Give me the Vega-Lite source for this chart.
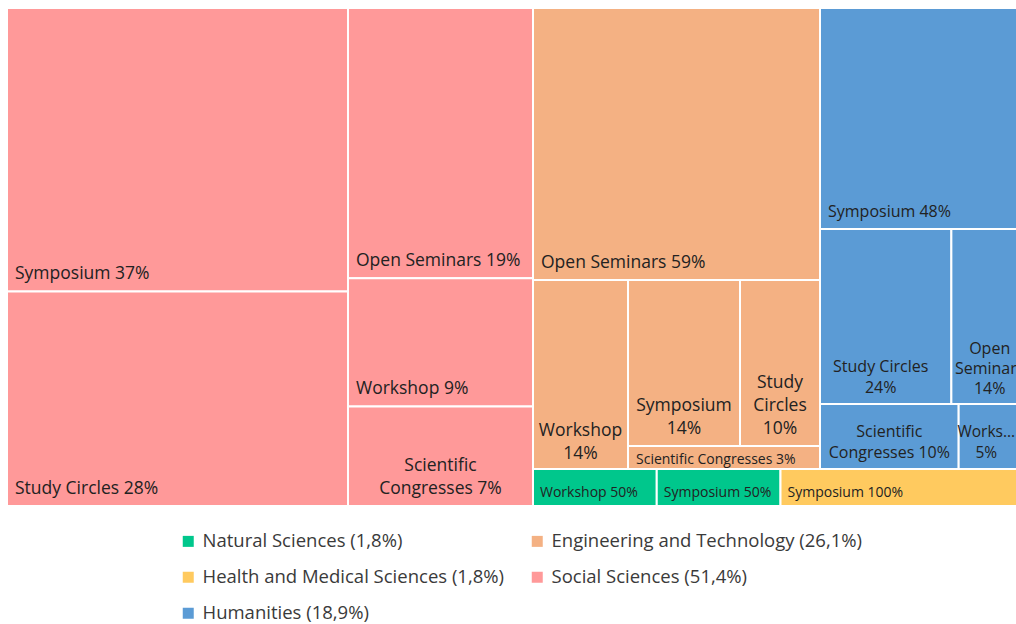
{
  "$schema": "https://vega.github.io/schema/vega-lite/v6.json",
  "padding": {"left": 7, "top": 8, "right": 0, "bottom": 0},
  "background": "white",
  "config": {"view": {"stroke": null}, "concat": {"spacing": 0}, "text": {"font": "Open Sans"}},
  "data": {"values": [
    {"panel": "S1", "category": "Social Sciences (51,4%)", "type": "Symposium", "pct": 37, "label": "Symposium 37%"},
    {"panel": "S1", "category": "Social Sciences (51,4%)", "type": "Study Circles", "pct": 28, "label": "Study Circles 28%"},
    {"panel": "S2", "category": "Social Sciences (51,4%)", "type": "Open Seminars", "pct": 19, "label": "Open Seminars 19%"},
    {"panel": "S2", "category": "Social Sciences (51,4%)", "type": "Workshop", "pct": 9, "label": "Workshop 9%"},
    {"panel": "S2", "category": "Social Sciences (51,4%)", "type": "Scientific Congresses", "pct": 7, "label": "Scientific\nCongresses 7%"},
    {"panel": "E1", "category": "Engineering and Technology (26,1%)", "type": "Open Seminars", "pct": 59, "label": "Open Seminars 59%"},
    {"panel": "E2", "category": "Engineering and Technology (26,1%)", "type": "Workshop", "pct": 14, "label": "Workshop\n14%"},
    {"panel": "E3", "category": "Engineering and Technology (26,1%)", "type": "Symposium", "pct": 14, "label": "Symposium\n14%"},
    {"panel": "E3", "category": "Engineering and Technology (26,1%)", "type": "Study Circles", "pct": 10, "label": "Study\nCircles\n10%"},
    {"panel": "E4", "category": "Engineering and Technology (26,1%)", "type": "Scientific Congresses", "pct": 3, "label": "Scientific Congresses 3%"},
    {"panel": "H1", "category": "Humanities (18,9%)", "type": "Symposium", "pct": 48, "label": "Symposium 48%"},
    {"panel": "H2", "category": "Humanities (18,9%)", "type": "Study Circles", "pct": 24, "label": "Study Circles\n24%"},
    {"panel": "H2", "category": "Humanities (18,9%)", "type": "Open Seminars", "pct": 14, "label": "Open\nSeminars\n14%"},
    {"panel": "H3", "category": "Humanities (18,9%)", "type": "Scientific Congresses", "pct": 10, "label": "Scientific\nCongresses 10%"},
    {"panel": "H3", "category": "Humanities (18,9%)", "type": "Workshop", "pct": 5, "label": "Works...\n5%"},
    {"panel": "B", "category": "Natural Sciences (1,8%)", "type": "Workshop", "pct": 50, "label": "Workshop 50%"},
    {"panel": "B", "category": "Natural Sciences (1,8%)", "type": "Symposium", "pct": 50, "label": "Symposium 50%"},
    {"panel": "B", "category": "Health and Medical Sciences (1,8%)", "type": "Symposium", "pct": 100, "label": "Symposium 100%"}
  ]},
  "spacing": 0,
  "hconcat": [
    {
      "width": 341, "height": 498,
      "transform": [{"filter": {"field": "panel", "equal": "S1"}}],
      "encoding": {
        "x": {"field": "panel", "type": "nominal", "axis": null, "scale": {"paddingInner": 0, "paddingOuter": 0}},
        "y": {"field": "pct", "type": "quantitative", "stack": "normalize", "axis": null, "scale": {"reverse": true}},
        "order": {"field": "pct", "sort": "descending"},
        "color": {"field": "category", "type": "nominal", "scale": {"domain": ["Natural Sciences (1,8%)", "Engineering and Technology (26,1%)", "Health and Medical Sciences (1,8%)", "Social Sciences (51,4%)", "Humanities (18,9%)"], "range": ["#00C78C", "#F4B183", "#FFCA5F", "#FF9999", "#5B9BD5"]}, "legend": {"title": null, "orient": "none", "direction": "horizontal", "legendX": 172, "legendY": 524, "columns": 2, "columnPadding": 23, "rowPadding": 17, "symbolType": "square", "symbolSize": 121, "symbolStrokeWidth": 0, "labelFont": "Open Sans", "labelFontSize": 18.5, "labelColor": "#3a3a3a", "labelLimit": 0, "labelOffset": 5}}
      },
      "layer": [
        {"mark": {"type": "bar", "stroke": "white", "strokeWidth": 2, "clip": true}},
        {"mark": {"type": "text", "clip": true, "align": "left", "baseline": "bottom", "dx": 8, "dy": -8, "fontSize": 17.5, "font": "Open Sans"},
         "encoding": {"x": {"field": "panel", "type": "nominal", "axis": null, "bandPosition": 0}, "y": {"field": "pct", "type": "quantitative", "stack": "normalize", "axis": null, "bandPosition": 1}, "text": {"field": "label", "type": "nominal"}, "color": {"value": "#222222"}}}
      ]
    },
    {
      "width": 185, "height": 498,
      "transform": [{"filter": {"field": "panel", "equal": "S2"}}],
      "encoding": {
        "x": {"field": "panel", "type": "nominal", "axis": null, "scale": {"paddingInner": 0, "paddingOuter": 0}},
        "y": {"field": "pct", "type": "quantitative", "stack": "normalize", "axis": null, "scale": {"reverse": true}},
        "order": {"field": "pct", "sort": "descending"},
        "color": {"field": "category", "type": "nominal", "scale": {"domain": ["Natural Sciences (1,8%)", "Engineering and Technology (26,1%)", "Health and Medical Sciences (1,8%)", "Social Sciences (51,4%)", "Humanities (18,9%)"], "range": ["#00C78C", "#F4B183", "#FFCA5F", "#FF9999", "#5B9BD5"]}, "legend": {"title": null, "orient": "none", "direction": "horizontal", "legendX": 172, "legendY": 524, "columns": 2, "columnPadding": 23, "rowPadding": 17, "symbolType": "square", "symbolSize": 121, "symbolStrokeWidth": 0, "labelFont": "Open Sans", "labelFontSize": 18.5, "labelColor": "#3a3a3a", "labelLimit": 0, "labelOffset": 5}}
      },
      "layer": [
        {"mark": {"type": "bar", "stroke": "white", "strokeWidth": 2, "clip": true}},
        {"mark": {"type": "text", "clip": true, "align": "left", "baseline": "bottom", "dx": 8, "dy": -8, "fontSize": 17.5, "font": "Open Sans"},
         "encoding": {"x": {"field": "panel", "type": "nominal", "axis": null, "bandPosition": 0}, "y": {"field": "pct", "type": "quantitative", "stack": "normalize", "axis": null, "bandPosition": 1}, "text": {"condition": {"test": "length(split(datum.label, '\\n')) == 1", "field": "label", "type": "nominal"}, "value": ""}, "color": {"value": "#222222"}}},
        {"mark": {"type": "text", "clip": true, "align": "center", "baseline": "bottom", "dy": -31, "fontSize": 17.5, "font": "Open Sans", "lineBreak": "\n", "lineHeight": 23},
         "encoding": {"x": {"field": "panel", "type": "nominal", "axis": null, "bandPosition": 0.5}, "y": {"field": "pct", "type": "quantitative", "stack": "normalize", "axis": null, "bandPosition": 1}, "text": {"condition": {"test": "length(split(datum.label, '\\n')) == 2", "field": "label", "type": "nominal"}, "value": ""}, "color": {"value": "#222222"}}}
      ]
    },
    {
      "spacing": 0,
      "vconcat": [
        {
          "spacing": 0,
          "hconcat": [
            {
              "spacing": 0,
              "vconcat": [
                {
                  "width": 287, "height": 272,
                  "transform": [{"filter": {"field": "panel", "equal": "E1"}}],
                  "encoding": {
                    "x": {"field": "panel", "type": "nominal", "axis": null, "scale": {"paddingInner": 0, "paddingOuter": 0}},
                    "y": {"field": "pct", "type": "quantitative", "stack": "normalize", "axis": null, "scale": {"reverse": true}},
                    "order": {"field": "pct", "sort": "descending"},
                    "color": {"field": "category", "type": "nominal", "scale": {"domain": ["Natural Sciences (1,8%)", "Engineering and Technology (26,1%)", "Health and Medical Sciences (1,8%)", "Social Sciences (51,4%)", "Humanities (18,9%)"], "range": ["#00C78C", "#F4B183", "#FFCA5F", "#FF9999", "#5B9BD5"]}, "legend": {"title": null, "orient": "none", "direction": "horizontal", "legendX": 172, "legendY": 524, "columns": 2, "columnPadding": 23, "rowPadding": 17, "symbolType": "square", "symbolSize": 121, "symbolStrokeWidth": 0, "labelFont": "Open Sans", "labelFontSize": 18.5, "labelColor": "#3a3a3a", "labelLimit": 0, "labelOffset": 5}}
                  },
                  "layer": [
                    {"mark": {"type": "bar", "stroke": "white", "strokeWidth": 2, "clip": true}},
                    {"mark": {"type": "text", "clip": true, "align": "left", "baseline": "bottom", "dx": 8, "dy": -8, "fontSize": 17.5, "font": "Open Sans"},
                     "encoding": {"x": {"field": "panel", "type": "nominal", "axis": null, "bandPosition": 0}, "y": {"field": "pct", "type": "quantitative", "stack": "normalize", "axis": null, "bandPosition": 1}, "text": {"field": "label", "type": "nominal"}, "color": {"value": "#222222"}}}
                  ]
                },
                {
                  "spacing": 0,
                  "hconcat": [
                    {
                      "width": 95, "height": 189,
                      "transform": [{"filter": {"field": "panel", "equal": "E2"}}],
                      "encoding": {
                        "x": {"field": "panel", "type": "nominal", "axis": null, "scale": {"paddingInner": 0, "paddingOuter": 0}},
                        "y": {"field": "pct", "type": "quantitative", "stack": "normalize", "axis": null, "scale": {"reverse": true}},
                        "order": {"field": "pct", "sort": "descending"},
                        "color": {"field": "category", "type": "nominal", "scale": {"domain": ["Natural Sciences (1,8%)", "Engineering and Technology (26,1%)", "Health and Medical Sciences (1,8%)", "Social Sciences (51,4%)", "Humanities (18,9%)"], "range": ["#00C78C", "#F4B183", "#FFCA5F", "#FF9999", "#5B9BD5"]}, "legend": {"title": null, "orient": "none", "direction": "horizontal", "legendX": 172, "legendY": 524, "columns": 2, "columnPadding": 23, "rowPadding": 17, "symbolType": "square", "symbolSize": 121, "symbolStrokeWidth": 0, "labelFont": "Open Sans", "labelFontSize": 18.5, "labelColor": "#3a3a3a", "labelLimit": 0, "labelOffset": 5}}
                      },
                      "layer": [
                        {"mark": {"type": "bar", "stroke": "white", "strokeWidth": 2, "clip": true}},
                        {"mark": {"type": "text", "clip": true, "align": "center", "baseline": "bottom", "dy": -29, "fontSize": 17.5, "font": "Open Sans", "lineBreak": "\n", "lineHeight": 23},
                         "encoding": {"x": {"field": "panel", "type": "nominal", "axis": null, "bandPosition": 0.5}, "y": {"field": "pct", "type": "quantitative", "stack": "normalize", "axis": null, "bandPosition": 1}, "text": {"field": "label", "type": "nominal"}, "color": {"value": "#222222"}}}
                      ]
                    },
                    {
                      "spacing": 0,
                      "vconcat": [
                        {
                          "width": 192, "height": 166,
                          "transform": [{"filter": {"field": "panel", "equal": "E3"}}],
                          "encoding": {
                            "y": {"field": "panel", "type": "nominal", "axis": null, "scale": {"paddingInner": 0, "paddingOuter": 0}},
                            "x": {"field": "pct", "type": "quantitative", "stack": "normalize", "axis": null},
                            "order": {"field": "pct", "sort": "descending"},
                            "color": {"field": "category", "type": "nominal", "scale": {"domain": ["Natural Sciences (1,8%)", "Engineering and Technology (26,1%)", "Health and Medical Sciences (1,8%)", "Social Sciences (51,4%)", "Humanities (18,9%)"], "range": ["#00C78C", "#F4B183", "#FFCA5F", "#FF9999", "#5B9BD5"]}, "legend": {"title": null, "orient": "none", "direction": "horizontal", "legendX": 172, "legendY": 524, "columns": 2, "columnPadding": 23, "rowPadding": 17, "symbolType": "square", "symbolSize": 121, "symbolStrokeWidth": 0, "labelFont": "Open Sans", "labelFontSize": 18.5, "labelColor": "#3a3a3a", "labelLimit": 0, "labelOffset": 5}}
                          },
                          "layer": [
                            {"mark": {"type": "bar", "stroke": "white", "strokeWidth": 2, "clip": true}},
                            {"mark": {"type": "text", "clip": true, "align": "center", "baseline": "bottom", "dy": -31, "fontSize": 17.5, "font": "Open Sans", "lineBreak": "\n", "lineHeight": 23},
                             "encoding": {"y": {"field": "panel", "type": "nominal", "axis": null, "bandPosition": 1}, "x": {"field": "pct", "type": "quantitative", "stack": "normalize", "axis": null, "bandPosition": 0.5}, "text": {"condition": {"test": "length(split(datum.label, '\\n')) == 2", "field": "label", "type": "nominal"}, "value": ""}, "color": {"value": "#222222"}}},
                            {"mark": {"type": "text", "clip": true, "align": "center", "baseline": "bottom", "dy": -54, "fontSize": 17.5, "font": "Open Sans", "lineBreak": "\n", "lineHeight": 23},
                             "encoding": {"y": {"field": "panel", "type": "nominal", "axis": null, "bandPosition": 1}, "x": {"field": "pct", "type": "quantitative", "stack": "normalize", "axis": null, "bandPosition": 0.5}, "text": {"condition": {"test": "length(split(datum.label, '\\n')) == 3", "field": "label", "type": "nominal"}, "value": ""}, "color": {"value": "#222222"}}}
                          ]
                        },
                        {
                          "width": 192, "height": 23,
                          "transform": [{"filter": {"field": "panel", "equal": "E4"}}],
                          "encoding": {
                            "x": {"field": "panel", "type": "nominal", "axis": null, "scale": {"paddingInner": 0, "paddingOuter": 0}},
                            "y": {"field": "pct", "type": "quantitative", "stack": "normalize", "axis": null, "scale": {"reverse": true}},
                            "order": {"field": "pct", "sort": "descending"},
                            "color": {"field": "category", "type": "nominal", "scale": {"domain": ["Natural Sciences (1,8%)", "Engineering and Technology (26,1%)", "Health and Medical Sciences (1,8%)", "Social Sciences (51,4%)", "Humanities (18,9%)"], "range": ["#00C78C", "#F4B183", "#FFCA5F", "#FF9999", "#5B9BD5"]}, "legend": {"title": null, "orient": "none", "direction": "horizontal", "legendX": 172, "legendY": 524, "columns": 2, "columnPadding": 23, "rowPadding": 17, "symbolType": "square", "symbolSize": 121, "symbolStrokeWidth": 0, "labelFont": "Open Sans", "labelFontSize": 18.5, "labelColor": "#3a3a3a", "labelLimit": 0, "labelOffset": 5}}
                          },
                          "layer": [
                            {"mark": {"type": "bar", "stroke": "white", "strokeWidth": 2, "clip": true}},
                            {"mark": {"type": "text", "clip": true, "align": "left", "baseline": "bottom", "dx": 8, "dy": -2, "fontSize": 14, "font": "Open Sans"},
                             "encoding": {"x": {"field": "panel", "type": "nominal", "axis": null, "bandPosition": 0}, "y": {"field": "pct", "type": "quantitative", "stack": "normalize", "axis": null, "bandPosition": 1}, "text": {"field": "label", "type": "nominal"}, "color": {"value": "#222222"}}}
                          ]
                        }
                      ]
                    }
                  ]
                }
              ]
            },
            {
              "spacing": 0,
              "vconcat": [
                {
                  "width": 208, "height": 221,
                  "transform": [{"filter": {"field": "panel", "equal": "H1"}}],
                  "encoding": {
                    "x": {"field": "panel", "type": "nominal", "axis": null, "scale": {"paddingInner": 0, "paddingOuter": 0}},
                    "y": {"field": "pct", "type": "quantitative", "stack": "normalize", "axis": null, "scale": {"reverse": true}},
                    "order": {"field": "pct", "sort": "descending"},
                    "color": {"field": "category", "type": "nominal", "scale": {"domain": ["Natural Sciences (1,8%)", "Engineering and Technology (26,1%)", "Health and Medical Sciences (1,8%)", "Social Sciences (51,4%)", "Humanities (18,9%)"], "range": ["#00C78C", "#F4B183", "#FFCA5F", "#FF9999", "#5B9BD5"]}, "legend": {"title": null, "orient": "none", "direction": "horizontal", "legendX": 172, "legendY": 524, "columns": 2, "columnPadding": 23, "rowPadding": 17, "symbolType": "square", "symbolSize": 121, "symbolStrokeWidth": 0, "labelFont": "Open Sans", "labelFontSize": 18.5, "labelColor": "#3a3a3a", "labelLimit": 0, "labelOffset": 5}}
                  },
                  "layer": [
                    {"mark": {"type": "bar", "stroke": "white", "strokeWidth": 2, "clip": true}},
                    {"mark": {"type": "text", "clip": true, "align": "left", "baseline": "bottom", "dx": 8, "dy": -9, "fontSize": 16, "font": "Open Sans"},
                     "encoding": {"x": {"field": "panel", "type": "nominal", "axis": null, "bandPosition": 0}, "y": {"field": "pct", "type": "quantitative", "stack": "normalize", "axis": null, "bandPosition": 1}, "text": {"field": "label", "type": "nominal"}, "color": {"value": "#222222"}}}
                  ]
                },
                {
                  "width": 208, "height": 175,
                  "transform": [{"filter": {"field": "panel", "equal": "H2"}}],
                  "encoding": {
                    "y": {"field": "panel", "type": "nominal", "axis": null, "scale": {"paddingInner": 0, "paddingOuter": 0}},
                    "x": {"field": "pct", "type": "quantitative", "stack": "normalize", "axis": null},
                    "order": {"field": "pct", "sort": "descending"},
                    "color": {"field": "category", "type": "nominal", "scale": {"domain": ["Natural Sciences (1,8%)", "Engineering and Technology (26,1%)", "Health and Medical Sciences (1,8%)", "Social Sciences (51,4%)", "Humanities (18,9%)"], "range": ["#00C78C", "#F4B183", "#FFCA5F", "#FF9999", "#5B9BD5"]}, "legend": {"title": null, "orient": "none", "direction": "horizontal", "legendX": 172, "legendY": 524, "columns": 2, "columnPadding": 23, "rowPadding": 17, "symbolType": "square", "symbolSize": 121, "symbolStrokeWidth": 0, "labelFont": "Open Sans", "labelFontSize": 18.5, "labelColor": "#3a3a3a", "labelLimit": 0, "labelOffset": 5}}
                  },
                  "layer": [
                    {"mark": {"type": "bar", "stroke": "white", "strokeWidth": 2, "clip": true}},
                    {"mark": {"type": "text", "clip": true, "align": "center", "baseline": "bottom", "dx": -5, "dy": -29, "fontSize": 16, "font": "Open Sans", "lineBreak": "\n", "lineHeight": 21},
                     "encoding": {"y": {"field": "panel", "type": "nominal", "axis": null, "bandPosition": 1}, "x": {"field": "pct", "type": "quantitative", "stack": "normalize", "axis": null, "bandPosition": 0.5}, "text": {"condition": {"test": "length(split(datum.label, '\\n')) == 2", "field": "label", "type": "nominal"}, "value": ""}, "color": {"value": "#222222"}}},
                    {"mark": {"type": "text", "clip": true, "align": "center", "baseline": "bottom", "dy": -47, "fontSize": 16, "font": "Open Sans", "lineBreak": "\n", "lineHeight": 20},
                     "encoding": {"y": {"field": "panel", "type": "nominal", "axis": null, "bandPosition": 1}, "x": {"field": "pct", "type": "quantitative", "stack": "normalize", "axis": null, "bandPosition": 0.5}, "text": {"condition": {"test": "length(split(datum.label, '\\n')) == 3", "field": "label", "type": "nominal"}, "value": ""}, "color": {"value": "#222222"}}}
                  ]
                },
                {
                  "width": 208, "height": 65,
                  "transform": [{"filter": {"field": "panel", "equal": "H3"}}],
                  "encoding": {
                    "y": {"field": "panel", "type": "nominal", "axis": null, "scale": {"paddingInner": 0, "paddingOuter": 0}},
                    "x": {"field": "pct", "type": "quantitative", "stack": "normalize", "axis": null},
                    "order": {"field": "pct", "sort": "descending"},
                    "color": {"field": "category", "type": "nominal", "scale": {"domain": ["Natural Sciences (1,8%)", "Engineering and Technology (26,1%)", "Health and Medical Sciences (1,8%)", "Social Sciences (51,4%)", "Humanities (18,9%)"], "range": ["#00C78C", "#F4B183", "#FFCA5F", "#FF9999", "#5B9BD5"]}, "legend": {"title": null, "orient": "none", "direction": "horizontal", "legendX": 172, "legendY": 524, "columns": 2, "columnPadding": 23, "rowPadding": 17, "symbolType": "square", "symbolSize": 121, "symbolStrokeWidth": 0, "labelFont": "Open Sans", "labelFontSize": 18.5, "labelColor": "#3a3a3a", "labelLimit": 0, "labelOffset": 5}}
                  },
                  "layer": [
                    {"mark": {"type": "bar", "stroke": "white", "strokeWidth": 2, "clip": true}},
                    {"mark": {"type": "text", "clip": true, "align": "center", "baseline": "bottom", "dy": -29, "fontSize": 16, "font": "Open Sans", "lineBreak": "\n", "lineHeight": 21},
                     "encoding": {"y": {"field": "panel", "type": "nominal", "axis": null, "bandPosition": 1}, "x": {"field": "pct", "type": "quantitative", "stack": "normalize", "axis": null, "bandPosition": 0.5}, "text": {"condition": {"test": "datum.pct >= 8", "field": "label", "type": "nominal"}, "value": ""}, "color": {"value": "#222222"}}},
                    {"mark": {"type": "text", "clip": true, "align": "center", "baseline": "bottom", "dx": -7, "dy": -29, "fontSize": 15.5, "font": "Open Sans", "lineBreak": "\n", "lineHeight": 21},
                     "encoding": {"y": {"field": "panel", "type": "nominal", "axis": null, "bandPosition": 1}, "x": {"field": "pct", "type": "quantitative", "stack": "normalize", "axis": null, "bandPosition": 0.5}, "text": {"condition": {"test": "datum.pct < 8", "field": "label", "type": "nominal"}, "value": ""}, "color": {"value": "#222222"}}}
                  ]
                }
              ]
            }
          ]
        },
        {
          "width": 495, "height": 37,
          "transform": [{"filter": {"field": "panel", "equal": "B"}}],
          "encoding": {
            "y": {"field": "panel", "type": "nominal", "axis": null, "scale": {"paddingInner": 0, "paddingOuter": 0}},
            "x": {"field": "pct", "type": "quantitative", "stack": "normalize", "axis": null},
            "order": {"field": "label", "sort": "descending"},
            "color": {"field": "category", "type": "nominal", "scale": {"domain": ["Natural Sciences (1,8%)", "Engineering and Technology (26,1%)", "Health and Medical Sciences (1,8%)", "Social Sciences (51,4%)", "Humanities (18,9%)"], "range": ["#00C78C", "#F4B183", "#FFCA5F", "#FF9999", "#5B9BD5"]}, "legend": {"title": null, "orient": "none", "direction": "horizontal", "legendX": 172, "legendY": 524, "columns": 2, "columnPadding": 23, "rowPadding": 17, "symbolType": "square", "symbolSize": 121, "symbolStrokeWidth": 0, "labelFont": "Open Sans", "labelFontSize": 18.5, "labelColor": "#3a3a3a", "labelLimit": 0, "labelOffset": 5}}
          },
          "layer": [
            {"mark": {"type": "bar", "stroke": "white", "strokeWidth": 2, "clip": true}},
            {"mark": {"type": "text", "clip": true, "align": "left", "baseline": "bottom", "dx": 7, "dy": -6, "fontSize": 14, "font": "Open Sans"},
             "encoding": {"y": {"field": "panel", "type": "nominal", "axis": null, "bandPosition": 1}, "x": {"field": "pct", "type": "quantitative", "stack": "normalize", "axis": null, "bandPosition": 0}, "text": {"field": "label", "type": "nominal"}, "color": {"value": "#222222"}}}
          ]
        }
      ]
    }
  ]
}
